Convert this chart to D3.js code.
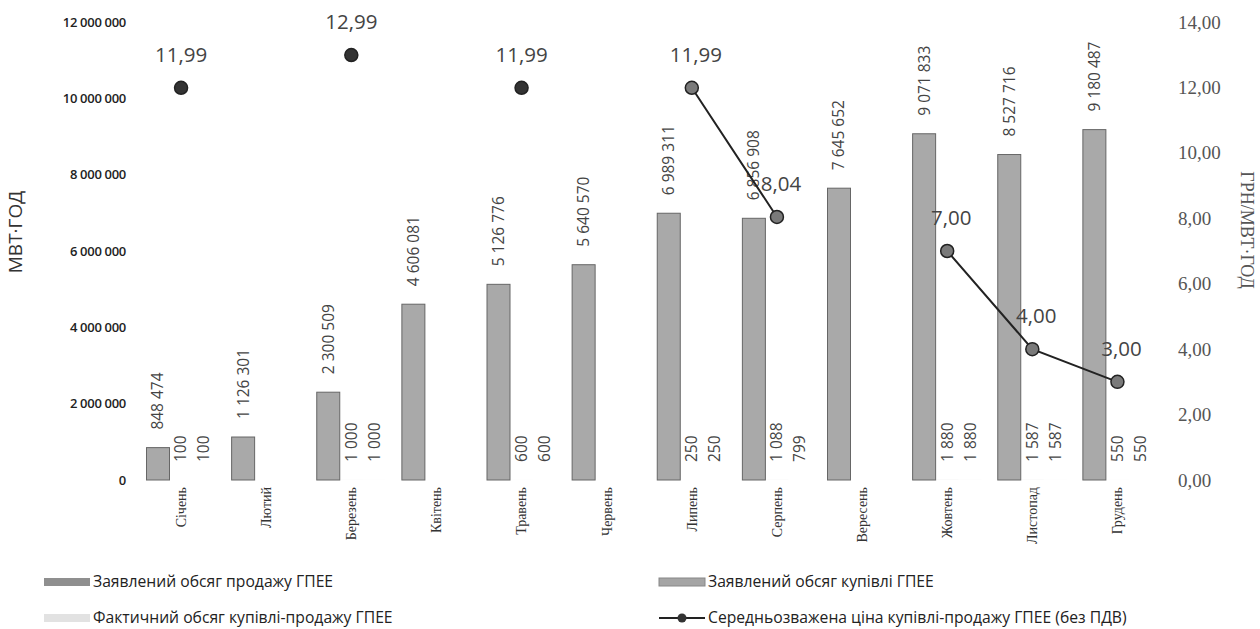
<!DOCTYPE html>
<html><head><meta charset="utf-8">
<script src="https://cdn.jsdelivr.net/npm/d3@7"></script>
<style>body{margin:0;background:#fff}svg{display:block}</style>
</head><body>
<script>
const months = ["Січень","Лютий","Березень","Квітень","Травень","Червень","Липень","Серпень","Вересень","Жовтень","Листопад","Грудень"];
const seriesNames = ["Заявлений обсяг продажу ГПЕЕ","Заявлений обсяг купівлі ГПЕЕ","Фактичний обсяг купівлі-продажу ГПЕЕ","Середньозважена ціна купівлі-продажу ГПЕЕ (без ПДВ)"];
const declaredSale = [848474,1126301,2300509,4606081,5126776,5640570,6989311,6856908,7645652,9071833,8527716,9180487];
const declaredPurchase = [100,null,1000,null,600,null,250,1088,null,1880,1587,550];
const actualVolume = [100,null,1000,null,600,null,250,799,null,1880,1587,550];
const price = [11.99,null,12.99,null,11.99,null,11.99,8.04,null,7.00,4.00,3.00];
const leftTicks = [0,2000000,4000000,6000000,8000000,10000000,12000000];
const rightTicks = [0,2,4,6,8,10,12,14];

const W=1260,H=629;
const svg=d3.select("body").append("svg").attr("width",W).attr("height",H);
const x=d3.scaleBand().domain(months).range([138.5,1160]);
const x1=d3.scaleBand().domain([0,1,2]).range([8,77]);
const yL=d3.scaleLinear().domain([0,12000000]).range([480,22]);
const yR=d3.scaleLinear().domain([0,14]).range([480,22]);
const sp=n=>d3.format(",")(n).replace(/,/g," ");
const dec=n=>d3.format(".2f")(n).replace(".",",");

// left axis
const gL=svg.append("g").attr("transform","translate(126,0)")
  .call(d3.axisLeft(yL).tickValues(leftTicks).tickSize(0).tickPadding(0).tickFormat(sp));
gL.select(".domain").remove();
gL.selectAll("text").attr("font-family","'Open Sans',sans-serif").attr("font-size",13).attr("font-weight",600).attr("fill","#222").attr("letter-spacing","-0.3");
svg.append("text").attr("transform","translate(22,232) rotate(-90)").attr("text-anchor","middle")
  .attr("font-family","'Open Sans',sans-serif").attr("font-size",19).attr("fill","#333").text("МВТ·ГОД");

// right axis
const gR=svg.append("g").attr("transform","translate(1178,0)")
  .call(d3.axisRight(yR).tickValues(rightTicks).tickSize(0).tickPadding(0).tickFormat(dec));
gR.select(".domain").remove();
gR.selectAll("text").attr("font-family","'Liberation Serif',serif").attr("font-size",19).attr("fill","#555");
svg.append("text").attr("transform","translate(1241,230) rotate(90)").attr("text-anchor","middle")
  .attr("font-family","'Liberation Serif',serif").attr("font-size",18).attr("fill","#555").text("ГРН/МВТ·ГОД");

// x axis labels
const gX=svg.append("g").attr("transform","translate(0,487)")
  .call(d3.axisBottom(x).tickSize(0).tickPadding(0));
gX.select(".domain").remove();
gX.selectAll("text").attr("transform","rotate(-90)").attr("text-anchor","end").attr("dy","0.35em").attr("x",0).attr("y",0)
  .attr("font-family","'Liberation Serif',serif").attr("font-size",14).attr("fill","#333");

// bars
const series=[declaredSale,declaredPurchase,actualVolume];
const fills=["#a9a9a9","#b5b5b5","#e2e2e2"];
series.forEach((arr,si)=>{
  const g=svg.append("g");
  months.forEach((m,i)=>{
    const v=arr[i]; if(v==null) return;
    const bx=x(m)+x1(si), bw=x1.bandwidth();
    g.append("rect").attr("x",bx).attr("y",yL(v)).attr("width",bw).attr("height",Math.max(0,480-yL(v)))
      .attr("fill",fills[si]).attr("stroke",si===0?"#666":"none").attr("stroke-width",1);
    g.append("text").attr("transform",`translate(${bx+bw/2},${yL(v)-18}) rotate(-90)`)
      .attr("dy","0.35em").attr("font-family","'Open Sans',sans-serif").attr("font-size",15.5).attr("fill","#444")
      .text(sp(v));
  });
});

// price line segments
const cx=m=>x(m)+x.bandwidth()/2;
const pts=months.map((m,i)=>({m,v:price[i],i}));
const line=d3.line().defined(d=>d.v!=null).x(d=>cx(d.m)).y(d=>yR(d.v));
svg.append("path").attr("d",line(pts)).attr("fill","none").attr("stroke","#222").attr("stroke-width",2);
pts.filter(d=>d.v!=null).forEach(d=>{
  const prev=price[d.i-1]!=null, next=price[d.i+1]!=null;
  const connected=prev||next;
  svg.append("circle").attr("cx",cx(d.m)).attr("cy",yR(d.v)).attr("r",6.5)
    .attr("fill",connected?"#7a7a7a":"#333").attr("stroke","#222").attr("stroke-width",1.5);
  svg.append("text").attr("x",cx(d.m)+(connected?4:0)).attr("y",yR(d.v)-26).attr("text-anchor","middle")
    .attr("font-family","'Open Sans',sans-serif").attr("font-size",20.5).attr("fill","#444").text(dec(d.v));
});

// legend
const lf="'Open Sans',sans-serif";
function legRect(x0,y0,fill,stroke,label){
  svg.append("rect").attr("x",x0).attr("y",y0-4).attr("width",46).attr("height",8).attr("fill",fill).attr("stroke",stroke).attr("stroke-width",stroke==="none"?0:1);
  svg.append("text").attr("x",x0+49).attr("y",y0).attr("dy","0.35em").attr("font-family",lf).attr("font-size",15.7).attr("fill","#222").text(label);
}
legRect(44,582,"#8f8f8f","none",seriesNames[0]);
legRect(659,582,"#a5a5a5","#888",seriesNames[1]);
legRect(44,618,"#e2e2e2","none",seriesNames[2]);
svg.append("line").attr("x1",659).attr("x2",705).attr("y1",618).attr("y2",618).attr("stroke","#222").attr("stroke-width",2);
svg.append("circle").attr("cx",682).attr("cy",618).attr("r",4.5).attr("fill","#333");
svg.append("text").attr("x",708).attr("y",618).attr("dy","0.35em").attr("font-family",lf).attr("font-size",15.7).attr("fill","#222").text(seriesNames[3]);
</script>
</body></html>
